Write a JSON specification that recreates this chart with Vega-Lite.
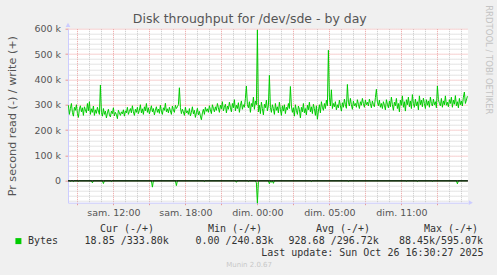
{
"$schema": "https://vega.github.io/schema/vega-lite/v6.json",
"background": "#f0f0f0",
"padding": {"left": 5, "top": 4.7, "right": 10, "bottom": 10},
"config": {"font": "DejaVu Sans", "view": {"stroke": null}},
"spacing": 0,
"datasets": {
"disk": [
{"m":495,"w":298,"r":0},{"m":500,"w":262,"r":0},{"m":505,"w":285,"r":-2},{"m":510,"w":305,"r":0},{"m":515,"w":270,"r":0},{"m":520,"w":255,"r":-3},{"m":525,"w":290,"r":0},{"m":530,"w":278,"r":0},{"m":535,"w":300,"r":0},{"m":540,"w":265,"r":0},
{"m":545,"w":250,"r":-2},{"m":550,"w":284,"r":0},{"m":555,"w":296,"r":0},{"m":560,"w":272,"r":0},{"m":565,"w":288,"r":0},{"m":570,"w":258,"r":0},{"m":575,"w":292,"r":0},{"m":580,"w":280,"r":0},{"m":585,"w":268,"r":0},{"m":590,"w":305,"r":0},
{"m":595,"w":276,"r":0},{"m":600,"w":312,"r":0},{"m":605,"w":262,"r":0},{"m":610,"w":284,"r":0},{"m":615,"w":270,"r":-8},{"m":620,"w":295,"r":0},{"m":625,"w":258,"r":0},{"m":630,"w":280,"r":0},{"m":635,"w":266,"r":0},{"m":640,"w":290,"r":0},
{"m":645,"w":275,"r":0},{"m":650,"w":262,"r":0},{"m":655,"w":378,"r":0},{"m":660,"w":270,"r":0},{"m":665,"w":255,"r":0},{"m":670,"w":285,"r":-11},{"m":675,"w":262,"r":0},{"m":680,"w":275,"r":0},{"m":685,"w":248,"r":0},{"m":690,"w":268,"r":0},
{"m":695,"w":282,"r":0},{"m":700,"w":260,"r":0},{"m":705,"w":252,"r":0},{"m":710,"w":275,"r":-3},{"m":715,"w":265,"r":0},{"m":720,"w":288,"r":0},{"m":725,"w":256,"r":0},{"m":730,"w":270,"r":0},{"m":735,"w":262,"r":0},{"m":740,"w":245,"r":0},
{"m":745,"w":278,"r":0},{"m":750,"w":268,"r":0},{"m":755,"w":258,"r":0},{"m":760,"w":272,"r":0},{"m":765,"w":264,"r":0},{"m":770,"w":280,"r":0},{"m":775,"w":255,"r":0},{"m":780,"w":276,"r":0},{"m":785,"w":268,"r":0},{"m":790,"w":290,"r":0},
{"m":795,"w":262,"r":0},{"m":800,"w":274,"r":0},{"m":805,"w":285,"r":0},{"m":810,"w":268,"r":0},{"m":815,"w":296,"r":0},{"m":820,"w":272,"r":0},{"m":825,"w":258,"r":0},{"m":830,"w":282,"r":0},{"m":835,"w":270,"r":0},{"m":840,"w":290,"r":0},
{"m":845,"w":265,"r":0},{"m":850,"w":278,"r":0},{"m":855,"w":300,"r":0},{"m":860,"w":268,"r":0},{"m":865,"w":284,"r":0},{"m":870,"w":262,"r":0},{"m":875,"w":292,"r":0},{"m":880,"w":276,"r":0},{"m":885,"w":305,"r":0},{"m":890,"w":270,"r":0},
{"m":895,"w":288,"r":0},{"m":900,"w":264,"r":0},{"m":905,"w":280,"r":0},{"m":910,"w":296,"r":0},{"m":915,"w":272,"r":-25},{"m":920,"w":285,"r":0},{"m":925,"w":260,"r":0},{"m":930,"w":278,"r":0},{"m":935,"w":292,"r":0},{"m":940,"w":270,"r":0},
{"m":945,"w":283,"r":0},{"m":950,"w":266,"r":0},{"m":955,"w":298,"r":0},{"m":960,"w":275,"r":0},{"m":965,"w":262,"r":0},{"m":970,"w":288,"r":0},{"m":975,"w":278,"r":0},{"m":980,"w":306,"r":0},{"m":985,"w":272,"r":0},{"m":990,"w":284,"r":0},
{"m":995,"w":268,"r":0},{"m":1000,"w":290,"r":0},{"m":1005,"w":276,"r":0},{"m":1010,"w":262,"r":0},{"m":1015,"w":295,"r":0},{"m":1020,"w":280,"r":0},{"m":1025,"w":270,"r":0},{"m":1030,"w":298,"r":0},{"m":1035,"w":285,"r":-19},{"m":1040,"w":292,"r":0},
{"m":1045,"w":300,"r":0},{"m":1050,"w":367,"r":0},{"m":1055,"w":290,"r":0},{"m":1060,"w":265,"r":0},{"m":1065,"w":282,"r":0},{"m":1070,"w":272,"r":0},{"m":1075,"w":258,"r":0},{"m":1080,"w":290,"r":0},{"m":1085,"w":268,"r":0},{"m":1090,"w":276,"r":0},
{"m":1095,"w":262,"r":0},{"m":1100,"w":285,"r":0},{"m":1105,"w":256,"r":0},{"m":1110,"w":270,"r":0},{"m":1115,"w":292,"r":0},{"m":1120,"w":264,"r":0},{"m":1125,"w":278,"r":0},{"m":1130,"w":250,"r":0},{"m":1135,"w":268,"r":0},{"m":1140,"w":286,"r":0},
{"m":1145,"w":260,"r":0},{"m":1150,"w":274,"r":0},{"m":1155,"w":255,"r":0},{"m":1160,"w":240.83,"r":0},{"m":1165,"w":268,"r":0},{"m":1170,"w":282,"r":0},{"m":1175,"w":262,"r":-3},{"m":1180,"w":290,"r":0},{"m":1185,"w":274,"r":0},{"m":1190,"w":284,"r":0},
{"m":1195,"w":270,"r":0},{"m":1200,"w":296,"r":0},{"m":1205,"w":280,"r":0},{"m":1210,"w":265,"r":0},{"m":1215,"w":300,"r":0},{"m":1220,"w":286,"r":0},{"m":1225,"w":272,"r":0},{"m":1230,"w":292,"r":0},{"m":1235,"w":278,"r":0},{"m":1240,"w":305,"r":0},
{"m":1245,"w":288,"r":0},{"m":1250,"w":270,"r":0},{"m":1255,"w":298,"r":0},{"m":1260,"w":284,"r":0},{"m":1265,"w":312,"r":0},{"m":1270,"w":276,"r":0},{"m":1275,"w":290,"r":0},{"m":1280,"w":302,"r":0},{"m":1285,"w":268,"r":0},{"m":1290,"w":295,"r":0},
{"m":1295,"w":282,"r":0},{"m":1300,"w":310,"r":0},{"m":1305,"w":290,"r":0},{"m":1310,"w":272,"r":0},{"m":1315,"w":305,"r":0},{"m":1320,"w":288,"r":0},{"m":1325,"w":320,"r":0},{"m":1330,"w":276,"r":0},{"m":1335,"w":298,"r":-6},{"m":1340,"w":285,"r":0},
{"m":1345,"w":308,"r":0},{"m":1350,"w":270,"r":0},{"m":1355,"w":296,"r":0},{"m":1360,"w":315,"r":0},{"m":1365,"w":282,"r":0},{"m":1370,"w":300,"r":0},{"m":1375,"w":290,"r":0},{"m":1380,"w":325,"r":0},{"m":1385,"w":374,"r":0},{"m":1390,"w":300,"r":0},
{"m":1395,"w":288,"r":-3},{"m":1400,"w":312,"r":0},{"m":1405,"w":270,"r":0},{"m":1410,"w":305,"r":0},{"m":1415,"w":292,"r":0},{"m":1420,"w":330,"r":0},{"m":1425,"w":282,"r":0},{"m":1430,"w":315,"r":0},{"m":1435,"w":300,"r":-8},{"m":1440,"w":595.07,"r":-88.45},
{"m":1445,"w":272,"r":-5},{"m":1450,"w":298,"r":0},{"m":1455,"w":265,"r":0},{"m":1460,"w":310,"r":0},{"m":1465,"w":285,"r":0},{"m":1470,"w":260,"r":0},{"m":1475,"w":302,"r":0},{"m":1480,"w":288,"r":0},{"m":1485,"w":318,"r":0},{"m":1490,"w":276,"r":0},
{"m":1495,"w":296,"r":0},{"m":1500,"w":416,"r":-12},{"m":1505,"w":290,"r":0},{"m":1510,"w":270,"r":-6},{"m":1515,"w":300,"r":0},{"m":1520,"w":285,"r":-10},{"m":1525,"w":262,"r":0},{"m":1530,"w":305,"r":0},{"m":1535,"w":278,"r":0},{"m":1540,"w":292,"r":0},
{"m":1545,"w":268,"r":0},{"m":1550,"w":310,"r":0},{"m":1555,"w":282,"r":0},{"m":1560,"w":258,"r":0},{"m":1565,"w":296,"r":0},{"m":1570,"w":275,"r":0},{"m":1575,"w":300,"r":0},{"m":1580,"w":265,"r":0},{"m":1585,"w":290,"r":0},{"m":1590,"w":280,"r":0},
{"m":1595,"w":305,"r":0},{"m":1600,"w":285,"r":0},{"m":1605,"w":372,"r":0},{"m":1610,"w":295,"r":0},{"m":1615,"w":270,"r":0},{"m":1620,"w":288,"r":0},{"m":1625,"w":255,"r":0},{"m":1630,"w":300,"r":0},{"m":1635,"w":278,"r":0},{"m":1640,"w":262,"r":0},
{"m":1645,"w":295,"r":0},{"m":1650,"w":282,"r":0},{"m":1655,"w":248,"r":0},{"m":1660,"w":290,"r":0},{"m":1665,"w":272,"r":0},{"m":1670,"w":305,"r":0},{"m":1675,"w":268,"r":0},{"m":1680,"w":285,"r":0},{"m":1685,"w":260,"r":0},{"m":1690,"w":298,"r":0},
{"m":1695,"w":280,"r":0},{"m":1700,"w":310,"r":0},{"m":1705,"w":272,"r":0},{"m":1710,"w":292,"r":-3},{"m":1715,"w":265,"r":0},{"m":1720,"w":302,"r":0},{"m":1725,"w":285,"r":0},{"m":1730,"w":258,"r":0},{"m":1735,"w":296,"r":0},{"m":1740,"w":243,"r":0},
{"m":1745,"w":275,"r":0},{"m":1750,"w":300,"r":0},{"m":1755,"w":268,"r":0},{"m":1760,"w":312,"r":0},{"m":1765,"w":290,"r":0},{"m":1770,"w":278,"r":0},{"m":1775,"w":305,"r":0},{"m":1780,"w":285,"r":0},{"m":1785,"w":318,"r":0},{"m":1790,"w":296,"r":0},
{"m":1795,"w":515,"r":0},{"m":1800,"w":330,"r":0},{"m":1805,"w":295,"r":0},{"m":1810,"w":359,"r":0},{"m":1815,"w":285,"r":0},{"m":1820,"w":305,"r":0},{"m":1825,"w":292,"r":0},{"m":1830,"w":312,"r":0},{"m":1835,"w":280,"r":0},{"m":1840,"w":300,"r":0},
{"m":1845,"w":288,"r":0},{"m":1850,"w":318,"r":0},{"m":1855,"w":296,"r":0},{"m":1860,"w":275,"r":0},{"m":1865,"w":308,"r":0},{"m":1870,"w":290,"r":0},{"m":1875,"w":322,"r":0},{"m":1880,"w":300,"r":0},{"m":1885,"w":286,"r":0},{"m":1890,"w":380,"r":0},
{"m":1895,"w":310,"r":-3},{"m":1900,"w":295,"r":0},{"m":1905,"w":325,"r":0},{"m":1910,"w":300,"r":0},{"m":1915,"w":282,"r":0},{"m":1920,"w":315,"r":0},{"m":1925,"w":296,"r":0},{"m":1930,"w":305,"r":0},{"m":1935,"w":290,"r":0},{"m":1940,"w":320,"r":0},
{"m":1945,"w":302,"r":0},{"m":1950,"w":285,"r":0},{"m":1955,"w":312,"r":0},{"m":1960,"w":298,"r":0},{"m":1965,"w":325,"r":0},{"m":1970,"w":305,"r":0},{"m":1975,"w":290,"r":0},{"m":1980,"w":318,"r":0},{"m":1985,"w":300,"r":0},{"m":1990,"w":310,"r":0},
{"m":1995,"w":295,"r":0},{"m":2000,"w":322,"r":0},{"m":2005,"w":305,"r":0},{"m":2010,"w":288,"r":0},{"m":2015,"w":315,"r":0},{"m":2020,"w":300,"r":0},{"m":2025,"w":292,"r":0},{"m":2030,"w":328,"r":0},{"m":2035,"w":361,"r":0},{"m":2040,"w":310,"r":0},
{"m":2045,"w":296,"r":0},{"m":2050,"w":318,"r":0},{"m":2055,"w":290,"r":0},{"m":2060,"w":305,"r":0},{"m":2065,"w":285,"r":0},{"m":2070,"w":312,"r":0},{"m":2075,"w":298,"r":0},{"m":2080,"w":280,"r":0},{"m":2085,"w":320,"r":0},{"m":2090,"w":302,"r":0},
{"m":2095,"w":288,"r":0},{"m":2100,"w":315,"r":0},{"m":2105,"w":292,"r":0},{"m":2110,"w":330,"r":0},{"m":2115,"w":300,"r":0},{"m":2120,"w":278,"r":0},{"m":2125,"w":310,"r":0},{"m":2130,"w":296,"r":0},{"m":2135,"w":325,"r":0},{"m":2140,"w":285,"r":0},
{"m":2145,"w":305,"r":0},{"m":2150,"w":272,"r":0},{"m":2155,"w":318,"r":0},{"m":2160,"w":298,"r":0},{"m":2165,"w":335,"r":0},{"m":2170,"w":290,"r":0},{"m":2175,"w":312,"r":0},{"m":2180,"w":275,"r":0},{"m":2185,"w":320,"r":-2},{"m":2190,"w":300,"r":0},
{"m":2195,"w":330,"r":0},{"m":2200,"w":292,"r":0},{"m":2205,"w":315,"r":0},{"m":2210,"w":285,"r":0},{"m":2215,"w":340,"r":0},{"m":2220,"w":305,"r":0},{"m":2225,"w":290,"r":0},{"m":2230,"w":322,"r":0},{"m":2235,"w":296,"r":0},{"m":2240,"w":312,"r":-3},
{"m":2245,"w":280,"r":0},{"m":2250,"w":335,"r":0},{"m":2255,"w":300,"r":0},{"m":2260,"w":318,"r":0},{"m":2265,"w":292,"r":0},{"m":2270,"w":326,"r":0},{"m":2275,"w":305,"r":0},{"m":2280,"w":285,"r":0},{"m":2285,"w":320,"r":0},{"m":2290,"w":298,"r":0},
{"m":2295,"w":315,"r":0},{"m":2300,"w":290,"r":0},{"m":2305,"w":330,"r":0},{"m":2310,"w":305,"r":0},{"m":2315,"w":295,"r":-2},{"m":2320,"w":322,"r":0},{"m":2325,"w":300,"r":0},{"m":2330,"w":312,"r":0},{"m":2335,"w":288,"r":0},{"m":2340,"w":374,"r":0},
{"m":2345,"w":320,"r":0},{"m":2350,"w":305,"r":0},{"m":2355,"w":296,"r":0},{"m":2360,"w":325,"r":0},{"m":2365,"w":290,"r":0},{"m":2370,"w":315,"r":0},{"m":2375,"w":300,"r":0},{"m":2380,"w":335,"r":0},{"m":2385,"w":298,"r":0},{"m":2390,"w":310,"r":0},
{"m":2395,"w":292,"r":0},{"m":2400,"w":320,"r":0},{"m":2405,"w":305,"r":0},{"m":2410,"w":330,"r":0},{"m":2415,"w":290,"r":0},{"m":2420,"w":318,"r":0},{"m":2425,"w":302,"r":0},{"m":2430,"w":336,"r":0},{"m":2435,"w":296,"r":0},{"m":2440,"w":312,"r":-12},
{"m":2445,"w":288,"r":0},{"m":2450,"w":325,"r":0},{"m":2455,"w":300,"r":0},{"m":2460,"w":315,"r":0},{"m":2465,"w":295,"r":0},{"m":2470,"w":330,"r":0},{"m":2475,"w":350,"r":0},{"m":2480,"w":305,"r":0},{"m":2485,"w":318,"r":0},{"m":2490,"w":333.8,"r":-0.019}
],
"legend": [
{"line":1,"col":12,"text":"Cur (-/+)"},
{"line":1,"col":30,"text":"Min (-/+)"},
{"line":1,"col":48,"text":"Avg (-/+)"},
{"line":1,"col":66,"text":"Max (-/+)"},
{"line":2,"col":0,"text":"Bytes"},
{"line":2,"col":9.43,"text":"18.85 /333.80k"},
{"line":2,"col":27.9,"text":"0.00 /240.83k"},
{"line":2,"col":43.43,"text":"928.68 /296.72k"},
{"line":2,"col":61.83,"text":"88.45k/595.07k"}
],
"update": [{"line":3,"col":75.93,"text":"Last update: Sun Oct 26 16:30:27 2025"}],
"footer": [{"line":4,"col":36.85,"text":"Munin 2.0.67"}],
"series": [{"name":"Bytes","line":2,"col":-1.6}]
},
"vconcat": [
{
"width": 400,
"height": 174,
"view": {"fill": "white", "stroke": null},
"resolve": {"axis": {"y": "independent", "x": "independent"}},
"layer": [
{
"data": {"name": "disk"},
"mark": {"type": "line", "color": "#00cc00", "strokeWidth": 1},
"encoding": {
"x": {"field": "m", "type": "quantitative", "scale": {"domain": [493, 2493], "nice": false, "zero": false},
"axis": {"values": [540,600,660,720,780,840,900,960,1020,1080,1140,1200,1260,1320,1380,1440,1500,1560,1620,1680,1740,1800,1860,1920,1980,2040,2100,2160,2220,2280,2340,2400,2460],
"labelExpr": "datum.value == 720 ? 'sam. 12:00' : datum.value == 1080 ? 'sam. 18:00' : datum.value == 1440 ? 'dim. 00:00' : datum.value == 1800 ? 'dim. 05:00' : datum.value == 2160 ? 'dim. 11:00' : ''",
"labelFont": "DejaVu Sans", "labelFontSize": 9.5, "labelColor": "#555555", "labelPadding": 3, "labelOverlap": false, "labelFlush": false,
"tickSize": 2, "tickColor": {"condition": {"test": "datum.value % 180 === 0", "value": "#e89a9a"}, "value": "transparent"},
"domainColor": "#ccccff", "domainWidth": 1,
"grid": true, "gridColor": {"condition": {"test": "datum.value % 180 === 0", "value": "#eea0a0"}, "value": "#c8c8c8"}, "gridDash": [1, 1], "gridWidth": 1,
"title": null}},
"y": {"field": "w", "type": "quantitative", "scale": {"domain": [-86.4, 600], "nice": false, "zero": false},
"axis": {"values": [-80,-60,-40,-20,0,20,40,60,80,100,120,140,160,180,200,220,240,260,280,300,320,340,360,380,400,420,440,460,480,500,520,540,560,580,600],
"labelExpr": "datum.value % 100 === 0 && datum.value >= 0 ? (datum.value === 0 ? '0' : datum.value + ' k') : ''",
"labelFont": "DejaVu Sans", "labelFontSize": 9.5, "labelColor": "#555555", "labelPadding": 4.5, "labelOverlap": false, "labelFlush": false,
"tickSize": 3, "tickColor": {"condition": {"test": "datum.value % 100 === 0", "value": "#e89a9a"}, "value": "transparent"},
"domainColor": "#ccccff", "domainWidth": 1,
"grid": true, "gridColor": {"condition": {"test": "datum.value % 100 === 0", "value": "#eea0a0"}, "value": "#c8c8c8"}, "gridDash": [1, 1], "gridWidth": 1,
"title": "Pr second read (-) / write (+)", "titleFont": "DejaVu Sans", "titleFontSize": 11.2, "titleFontWeight": "normal", "titleColor": "#555555",
"titleX": -56, "titleBaseline": "middle"}}
}
},
{
"data": {"name": "disk"},
"mark": {"type": "line", "color": "#00cc00", "strokeWidth": 1},
"encoding": {
"x": {"field": "m", "type": "quantitative", "axis": null},
"y": {"field": "r", "type": "quantitative", "axis": null}
}
},
{
"data": {"values": [{}]},
"mark": {"type": "rule", "color": "#000000", "strokeWidth": 1.2},
"encoding": {"y": {"datum": 0, "type": "quantitative", "axis": null}}
},
{
"data": {"values": [{}]},
"mark": {"type": "point", "shape": "triangle-right", "size": 22, "filled": true, "color": "#ccccff", "opacity": 1},
"encoding": {"x": {"datum": 2507, "type": "quantitative", "axis": null}, "y": {"datum": -86.4, "type": "quantitative", "axis": null}}
},
{
"data": {"values": [{}]},
"mark": {"type": "point", "shape": "triangle-up", "size": 22, "filled": true, "color": "#ccccff", "opacity": 1},
"encoding": {"x": {"datum": 493, "type": "quantitative", "axis": null}, "y": {"datum": 615, "type": "quantitative", "axis": null}}
},
{
"data": {"values": [{}]},
"mark": {"type": "rule", "opacity": 0},
"encoding": {
"x": {"datum": 1000, "type": "quantitative",
"axis": {"orient": "top", "labels": false, "ticks": false, "domain": false, "grid": false,
"title": "Disk throughput for /dev/sde - by day", "titleFont": "DejaVu Sans", "titleFontSize": 12.5, "titleFontWeight": "normal", "titleColor": "#555555",
"titleAlign": "center", "titleBaseline": "alphabetic", "titleAngle": 0, "titleX": 181.3, "titleY": -5.9}},
"y": {"datum": 0, "type": "quantitative",
"axis": {"orient": "right", "labels": false, "ticks": false, "domain": false, "grid": false,
"title": "RRDTOOL / TOBI OETIKER", "titleAngle": 90, "titleFont": "DejaVu Sans", "titleFontSize": 8.5, "titleFontWeight": "normal", "titleColor": "#c4c4c4",
"titleAlign": "left", "titleBaseline": "middle", "titleX": 20.5, "titleY": -24, "titleLimit": 200}}}
}
]
},
{
"width": 400,
"height": 48,
"view": {"fill": null, "stroke": null},
"layer": [
{
"data": {"name": "legend"},
"mark": {"type": "text", "font": "DejaVu Sans Mono", "fontSize": 10, "align": "left", "baseline": "middle", "color": "#333333"},
"encoding": {
"x": {"field": "col", "type": "quantitative", "scale": {"domain": [6.667, 73.333], "nice": false, "zero": false}, "axis": null},
"y": {"field": "line", "type": "quantitative", "scale": {"domain": [0, 4.1], "reverse": true, "nice": false, "zero": false}, "axis": null},
"text": {"field": "text"}
}
},
{
"data": {"name": "update"},
"mark": {"type": "text", "font": "DejaVu Sans Mono", "fontSize": 10, "align": "right", "baseline": "middle", "color": "#333333"},
"encoding": {
"x": {"field": "col", "type": "quantitative"},
"y": {"field": "line", "type": "quantitative"},
"text": {"field": "text"}
}
},
{
"data": {"name": "footer"},
"mark": {"type": "text", "font": "DejaVu Sans", "fontSize": 7, "align": "center", "baseline": "middle", "color": "#c8c8c8"},
"encoding": {
"x": {"field": "col", "type": "quantitative"},
"y": {"field": "line", "type": "quantitative"},
"text": {"field": "text"}
}
},
{
"data": {"name": "series"},
"mark": {"type": "square", "color": "#00cc00", "size": 36, "filled": true, "opacity": 1},
"encoding": {
"x": {"field": "col", "type": "quantitative"},
"y": {"field": "line", "type": "quantitative"}
}
}
]
}
]
}
